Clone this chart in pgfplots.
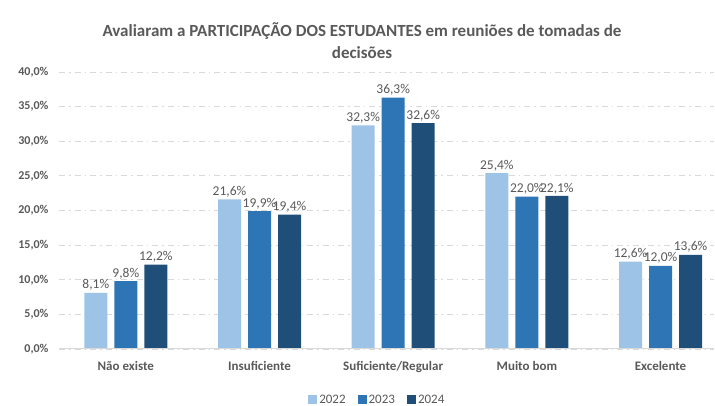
\documentclass[border=0pt]{standalone}
\usepackage{fontspec}
\setmainfont{Carlito}
\usepackage{pgfplots}
\pgfplotsset{compat=1.18}
\definecolor{cA}{HTML}{9DC3E6}
\definecolor{cB}{HTML}{2E75B6}
\definecolor{cC}{HTML}{1F4E79}
\definecolor{txt}{HTML}{595959}
\definecolor{grd}{HTML}{D9D9D9}
\begin{document}
\begin{tikzpicture}
\path[use as bounding box] (0,0) rectangle (715pt,406pt);
\node[font=\fontsize{17}{22}\selectfont\bfseries, text=txt, align=center] at (362pt,365pt) {Avaliaram a PARTICIPAÇÃO DOS ESTUDANTES em reuniões de tomadas de\\decisões};
\begin{axis}[
  at={(59pt,57pt)}, anchor=south west,
  scale only axis, width=655pt, height=277pt,
  xmin=-0.5, xmax=4.4, ymin=0, ymax=40,
  ybar=7pt, bar width=23pt,
  xtick={0,1,2,3,4},
  xticklabels={Não existe,Insuficiente,Suficiente/Regular,Muito bom,Excelente},
  ytick={0,5,...,40},
  xtick pos=bottom, ytick pos=left,
  /pgf/number format/assume math mode=true,
  yticklabel={\pgfmathprintnumber[fixed,fixed zerofill,precision=1,use comma]{\tick}\%},
  yticklabel style={font=\fontsize{12}{14}\selectfont\bfseries, text=txt, xshift=-7pt},
  xticklabel style={font=\fontsize{13}{15}\selectfont\bfseries, text=txt, yshift=-9pt},
  major tick length=0pt,
  axis line style={draw=none},
  ymajorgrids, grid style={grd, dash pattern=on 6pt off 4pt on 1.5pt off 4pt, line width=0.8pt},
  nodes near coords={\pgfmathprintnumber[fixed,fixed zerofill,precision=1,use comma]{\pgfplotspointmeta}\%},
  nodes near coords style={font=\fontsize{13.5}{16}\selectfont, text=txt, inner sep=2pt, /pgf/number format/assume math mode=true},
  legend style={at={(0.486,-0.184)}, anchor=center, draw=none, fill=none, legend columns=3, font=\fontsize{13}{15}\selectfont, text=txt, inner sep=0pt, /tikz/every even column/.append style={column sep=10pt}},
  legend image code/.code={\fill[#1] (0pt,-4.5pt) rectangle (9pt,4.5pt);},
  clip=false,
]
\addplot[fill=cA, draw=none] coordinates {(0,8.1) (1,21.6) (2,32.3) (3,25.4) (4,12.6)};
\addplot[fill=cB, draw=none] coordinates {(0,9.8) (1,19.9) (2,36.3) (3,22.0) (4,12.0)};
\addplot[fill=cC, draw=none] coordinates {(0,12.2) (1,19.4) (2,32.6) (3,22.1) (4,13.6)};
\draw[grd, line width=1pt] (axis cs:-0.5,0) -- (axis cs:4.4,0);
\legend{2022,2023,2024}
\end{axis}
\end{tikzpicture}
\end{document}
